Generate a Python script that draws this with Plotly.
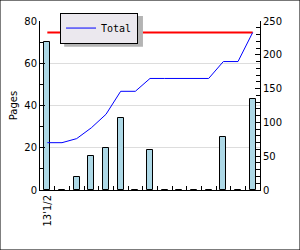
import plotly.graph_objects as go

categories = list(range(15))
first_label = "13'1/2"
pages = [70, 0, 6, 16, 20, 34, 0, 19, 0, 0, 0, 0, 25, 0, 43]
total = [70, 70, 76, 92, 112, 146, 146, 165, 165, 165, 165, 165, 190, 190, 233]
target = [233] * 15
boundaries = [c + 0.5 for c in categories[:-1]]

font = dict(family="DejaVu Sans", size=10, color="black")

fig = go.Figure()
fig.add_trace(go.Bar(
    x=categories, y=pages, width=0.42,
    marker=dict(color="#add8e6", line=dict(color="black", width=1)),
    showlegend=False, yaxis="y",
))
fig.add_trace(go.Scatter(
    x=categories, y=target, mode="lines", yaxis="y2",
    line=dict(color="#ff0000", width=2), showlegend=False,
))
fig.add_trace(go.Scatter(
    x=categories, y=total, mode="lines", yaxis="y2", name="Total",
    line=dict(color="#0000ff", width=1),
))

fig.update_layout(
    width=300, height=250,
    margin=dict(l=40, r=40, t=21, b=60),
    paper_bgcolor="white", plot_bgcolor="white",
    font=font,
    bargap=0,
    xaxis=dict(
        range=[-0.5, 14.5], tickmode="array", tickvals=[0], ticktext=[first_label],
        tickangle=-90, ticks="", showgrid=False, zeroline=False,
        showline=True, linecolor="black", linewidth=1, mirror=False,
        minor=dict(tickmode="array", tickvals=boundaries, ticks="inside",
                   ticklen=4, tickcolor="black", showgrid=False),
        tickfont=font,
    ),
    yaxis=dict(
        range=[0, 80], dtick=20, ticks="inside", ticklen=5, tickcolor="black",
        showline=True, linecolor="black", linewidth=1,
        showgrid=True, gridcolor="#dddddd", zeroline=False,
        minor=dict(dtick=10, ticks="inside", ticklen=4, tickcolor="black", showgrid=False),
        title=dict(text="Pages", font=font, standoff=4),
        tickfont=font,
    ),
    yaxis2=dict(
        range=[0, 250], dtick=50, overlaying="y", side="right",
        ticks="inside", ticklen=5, tickcolor="black",
        showline=True, linecolor="black", linewidth=1,
        showgrid=False, zeroline=False,
        minor=dict(dtick=10, ticks="inside", ticklen=4, tickcolor="black", showgrid=False),
        tickfont=font,
    ),
    legend=dict(
        x=0.091, y=1.05, xanchor="left", yanchor="top",
        bgcolor="#ebe8ee", bordercolor="black", borderwidth=1,
        font=dict(family="DejaVu Sans Mono", size=10, color="black"),
        itemwidth=30, tracegroupgap=0,
    ),
    shapes=[
        dict(type="rect", xref="paper", yref="paper",
             x0=0.11, x1=0.468, y0=0.848, y1=1.03,
             fillcolor="#b4b4b4", line=dict(width=0), layer="above"),
        dict(type="rect", xref="paper", yref="paper",
             x0=-0.1818, x1=1.1818, y0=-0.355, y1=1.124,
             fillcolor="rgba(0,0,0,0)", line=dict(color="black", width=1), layer="above"),
    ],
)

fig.write_html("out.html")
